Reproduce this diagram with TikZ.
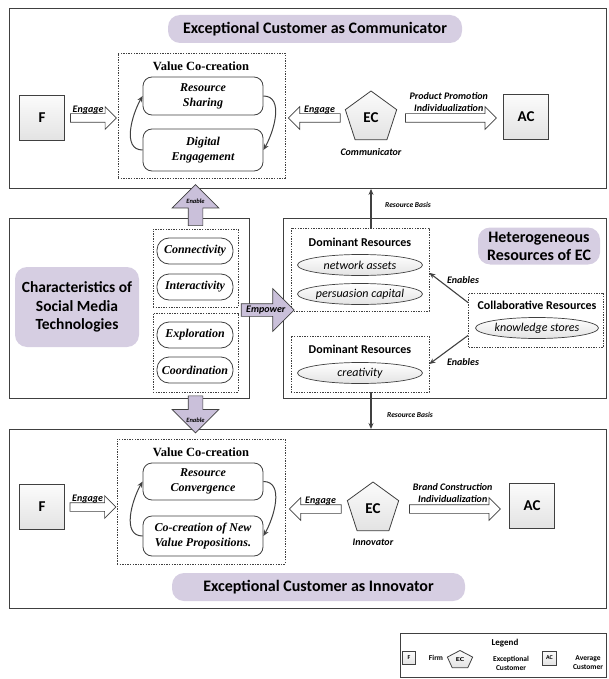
\documentclass[tikz,border=0pt]{standalone}
\usepackage{fontspec}
\setmainfont{Liberation Serif}
\setsansfont{Carlito}
\usetikzlibrary{calc,positioning,shapes.geometric,shapes.arrows,arrows.meta}
\definecolor{ln}{RGB}{64,64,64}
\definecolor{lav}{RGB}{214,206,226}
\definecolor{lavd}{RGB}{202,192,218}

\begin{document}
\begin{tikzpicture}[x=1pt,y=-1pt,
  sect/.style={draw=ln,line width=0.9pt,anchor=north west,inner sep=0pt},
  pill/.style={fill=lav,rounded corners=12pt,inner sep=0pt,align=center,font=\sffamily\bfseries\fontsize{16}{18}\selectfont},
  dotbox/.style={draw=ln,line width=0.7pt,dash pattern=on 1.4pt off 1.2pt,inner sep=0pt},
  rbox/.style={draw=ln,line width=0.8pt,fill=white,rounded corners=9pt,minimum width=120pt,inner sep=0pt,align=center,font=\bfseries\itshape\fontsize{12}{15}\selectfont},
  capsule/.style={draw=ln,line width=0.8pt,fill=white,rounded corners=12pt,minimum width=76pt,minimum height=26pt,inner sep=0pt,font=\bfseries\itshape\fontsize{12}{14}\selectfont},
  ell/.style={ellipse,draw=ln,line width=0.7pt,top color=white,bottom color=gray!22,minimum width=125pt,minimum height=21pt,inner sep=0pt,font=\sffamily\itshape\fontsize{12}{14}\selectfont},
  hd/.style={inner sep=0pt,font=\sffamily\bfseries\fontsize{12}{14}\selectfont},
  vt/.style={inner sep=0pt,font=\bfseries\fontsize{12.5}{14}\selectfont},
  sq/.style={draw=ln,line width=0.8pt,top color=gray!3,bottom color=gray!22,minimum size=45pt,inner sep=0pt,font=\sffamily\bfseries\fontsize{15}{18}\selectfont},
  pent/.style={regular polygon,regular polygon sides=5,draw=ln,line width=0.8pt,top color=gray!3,bottom color=gray!22,minimum size=54pt,inner sep=0pt,font=\sffamily\bfseries\fontsize{15}{18}\selectfont},
  blk/.style={single arrow,draw=ln,line width=0.7pt,fill=white,inner sep=4pt,single arrow head extend=7pt},
  pblk/.style={single arrow,draw=ln,line width=0.7pt,fill=lavd,inner sep=7pt,single arrow head extend=16pt},
  lbl/.style={inner sep=0pt,align=center,font=\sffamily\bfseries\itshape\fontsize{10}{12}\selectfont},
  sml/.style={inner sep=0pt,font=\sffamily\bfseries\itshape\fontsize{6.5}{7}\selectfont},
  rbl/.style={inner sep=0pt,font=\sffamily\bfseries\itshape\fontsize{7.5}{9}\selectfont},
  lgd/.style={inner sep=0pt,align=center,font=\sffamily\bfseries\fontsize{7.5}{9}\selectfont},
  cyc/.style={draw=ln,line width=1pt,-{Stealth[length=6pt,width=5pt]}},
  lnk/.style={draw=ln,line width=1.1pt,-{Stealth[length=6pt,width=5pt]}}
]
\useasboundingbox (0,0) rectangle (608,679);
\node[sect,minimum width=597pt,minimum height=180pt] (f1) at (9,8) {};
\node[sect,minimum width=240pt,minimum height=180pt] (f2l) at (9,218) {};
\node[sect,minimum width=323pt,minimum height=180pt] (f2r) at (283,218) {};
\node[sect,minimum width=597pt,minimum height=179pt] (f3) at (9,429) {};

\node[pill,minimum width=294pt,minimum height=28pt] (t1) at (315,29) {Exceptional Customer as Communicator};
\node[dotbox,minimum width=167pt,minimum height=125pt] (vc1) at (201.5,115.5) {};
\node[vt] (v1) at (201,66) {Value Co-creation};
\node[rbox,minimum height=38pt] (rs) at (203,96) {Resource\\Sharing};
\node[rbox,minimum height=42pt] (de) at (203,150) {Digital\\Engagement};
\draw[cyc] (de.west) to[out=180,in=-120] (rs.west);
\draw[cyc] (rs.east) to[out=0,in=60] (de.east);
\node[sq] (F1) at (42,118) {F};
\node[pent] (ec1) at (371,118) {EC};
\node[sq] (ac1) at (526,117) {AC};
\node[blk,minimum height=46pt] (e1) at ($(F1.east)!0.5!(F1.east -| vc1.west)$) {};
\node[blk,rotate=180,minimum height=52pt] (e2) at ($(vc1.east |- ec1.west)!0.5!(ec1.west)$) {};
\node[blk,minimum height=91pt] (p1) at ($(ec1.east)!0.5!(ec1.east -| ac1.west)$) {};
\node[lbl,anchor=south] (e1l) at ($(e1.tail)+(18,-4)$) {Engage};
\node[lbl,anchor=south] (e2l) at ($(e2.tail)+(-21,-4)$) {Engage};
\node[lbl,anchor=south] (p1l) at ($(p1)+(0,-6)$) {Product Promotion\\Individualization};
\node[lbl,below=8pt of ec1] (cm) {Communicator};

\node[pill,minimum width=124pt,minimum height=80pt,font=\sffamily\bfseries\fontsize{15.5}{18.5}\selectfont] (tc) at (77,307) {Characteristics of\\Social Media\\Technologies};
\node[dotbox,minimum width=85pt,minimum height=78pt] (cu) at (195.5,268) {};
\node[dotbox,minimum width=85pt,minimum height=79pt] (cl) at (195.5,352.5) {};
\node[capsule] (c1) at (195,251) {Connectivity};
\node[capsule] (c2) at (195,287) {Interactivity};
\node[capsule] (c3) at (195,335) {Exploration};
\node[capsule] (c4) at (195,370) {Coordination};
\node[pblk,rotate=90,minimum height=41pt] (en1) at ($(cu.north)!0.5!(cu.north |- f1.south)$) {};
\node[pblk,rotate=-90,minimum height=37pt] (en2) at ($(cl.south)!0.5!(cl.south |- f3.north)$) {};
\node[sml] (en1l) at ($(en1.tip)+(0,17)$) {Enable};
\node[sml] (en2l) at ($(en2.tip)+(0,-13)$) {Enable};

\node[pill,minimum width=122pt,minimum height=37pt] (th) at (539,246) {Heterogeneous\\Resources of EC};
\node[dotbox,minimum width=138pt,minimum height=83pt] (dr1) at (360,269.5) {};
\node[hd] (d1) at (360,242) {Dominant Resources};
\node[ell] (na) at (360,265) {network assets};
\node[ell] (pc) at (360,294) {persuasion capital};
\node[dotbox,minimum width=138pt,minimum height=56pt] (dr2) at (360,364) {};
\node[hd] (d2) at (360,349) {Dominant Resources};
\node[ell] (cr) at (360,373) {creativity};
\node[dotbox,minimum width=135pt,minimum height=54pt] (coll) at (536,320) {};
\node[hd] (cb) at (537,305) {Collaborative Resources};
\node[ell,minimum width=123pt] (ks) at (537,328) {knowledge stores};
\draw[lnk] ($(coll.north west)+(0,10)$) -- ($(dr1.north east)!0.54!(dr1.south east)$);
\draw[lnk] ($(coll.south west)+(0,-12)$) -- (dr2.east);
\node[lbl] (n1) at (463,280) {Enables};
\node[lbl] (n2) at (463,362) {Enables};
\coordinate (m) at ($(cu.south east)!0.5!(cl.north east)$);
\node[pblk,inner sep=6pt,single arrow head extend=15pt,minimum height=53pt] (em) at ($(m)!0.5!(m -| dr1.west)$) {};
\node[lbl] (eml) at ($(em.tail)+(25,0)$) {Empower};

\node[pill,minimum width=293pt,minimum height=28pt] (t3) at (318.5,587) {Exceptional Customer as Innovator};
\node[dotbox,minimum width=168pt,minimum height=125pt] (vc2) at (201,501.5) {};
\node[vt] (v2) at (201,452) {Value Co-creation};
\node[rbox,minimum height=37pt] (rc) at (203,481.5) {Resource\\Convergence};
\node[rbox,minimum height=40pt] (cn) at (203,536) {Co-creation of New\\Value Propositions.};
\draw[cyc] (cn.west) to[out=180,in=-120] (rc.west);
\draw[cyc] (rc.east) to[out=0,in=60] (cn.east);
\node[sq] (F2) at (42,507) {F};
\node[pent] (ec2) at (373,509) {EC};
\node[sq] (ac2) at (532,506) {AC};
\node[blk,minimum height=46pt] (e3) at ($(F2.east)!0.5!(F2.east -| vc2.west)$) {};
\node[blk,rotate=180,minimum height=52pt] (e4) at ($(vc2.east |- ec2.west)!0.5!(ec2.west)$) {};
\node[blk,minimum height=91pt] (p2) at ($(ec2.east)!0.5!(ec2.east -| ac2.west)$) {};
\node[lbl,anchor=south] (e3l) at ($(e3.tail)+(18,-4)$) {Engage};
\node[lbl,anchor=south] (e4l) at ($(e4.tail)+(-21,-4)$) {Engage};
\node[lbl,anchor=south] (p2l) at ($(p2)+(0,-6)$) {Brand Construction\\Individualization};
\node[lbl,below=8pt of ec2] (iv) {Innovator};

\draw[lnk] (dr1.north -| ec1) -- (ec1 |- f1.south);
\draw[lnk] (dr2.south -| ec1) -- (ec1 |- f3.north);
\node[rbl] (rb1) at (408,205) {Resource Basis};
\node[rbl] (rb2) at (410,415) {Resource Basis};

\node[sect,minimum width=206pt,minimum height=44pt] (lg) at (400,633) {};
\node[lgd,font=\sffamily\bfseries\fontsize{9}{10}\selectfont] (lgt) at (505,643) {Legend};
\node[sq,minimum size=13pt,font=\sffamily\bfseries\fontsize{6}{7}\selectfont] (lf) at (409,658) {F};
\node[lgd] (lft) at (436,658) {Firm};
\node[pent,minimum size=19pt,xscale=1.4,font=\sffamily\bfseries\fontsize{6}{7}\selectfont] (le) at (460,660) {EC};
\node[lgd] (let) at (511,663) {Exceptional\\Customer};
\node[sq,minimum size=14pt,font=\sffamily\bfseries\fontsize{6}{7}\selectfont] (la) at (549.5,658) {AC};
\node[lgd] (lat) at (588,663) {Average\\Customer};
\end{tikzpicture}
\end{document}
